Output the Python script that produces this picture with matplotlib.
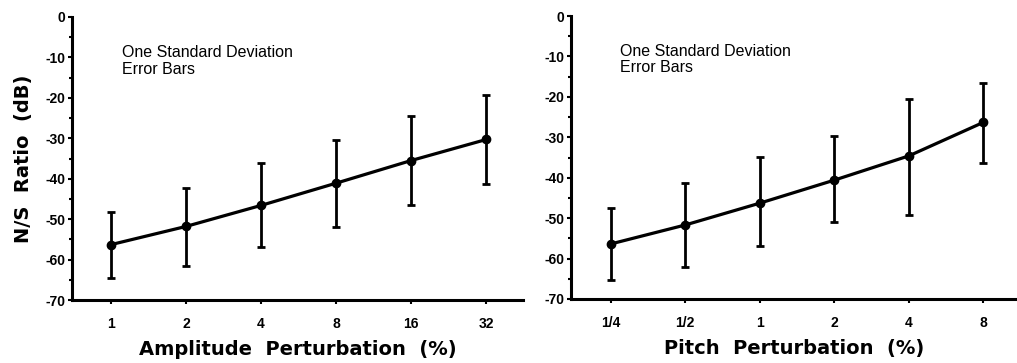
import matplotlib
matplotlib.use("Agg")
import matplotlib.pyplot as plt
from matplotlib.ticker import MultipleLocator

amp_labels = ["1", "2", "4", "8", "16", "32"]
amp_mean = [-56.3, -51.8, -46.6, -41.1, -35.5, -30.3]
amp_upper = [-48.3, -42.2, -36.2, -30.5, -24.4, -19.2]
amp_lower = [-64.5, -61.6, -56.8, -52.0, -46.5, -41.3]

pitch_labels = ["1/4", "1/2", "1", "2", "4", "8"]
pitch_mean = [-56.4, -51.7, -46.3, -40.6, -34.6, -26.3]
pitch_upper = [-47.6, -41.4, -34.8, -29.7, -20.6, -16.5]
pitch_lower = [-65.3, -62.2, -56.8, -51.0, -49.2, -36.4]

y_ticks = [0, -10, -20, -30, -40, -50, -60, -70]

plt.rcParams['font.family'] = ['Liberation Sans', 'DejaVu Sans']

fig = plt.figure(figsize=(10.17, 3.63), dpi=100)

W, H = 1017, 363
def axrect(x0, x1, ytop, ybot):
    return [x0 / W, 1 - ybot / H, (x1 - x0) / W, (ybot - ytop) / H]

ax1 = fig.add_axes(axrect(72, 523, 17, 300))
ax2 = fig.add_axes(axrect(571, 1017, 16, 299))

panels = [
    (ax1, amp_labels, amp_mean, amp_upper, amp_lower,
     "Amplitude  Perturbation  (%)", (-0.52, 5.49), True),
    (ax2, pitch_labels, pitch_mean, pitch_upper, pitch_lower,
     "Pitch  Perturbation  (%)", (-0.53, 5.45), False),
]

for ax, labels, mean, upper, lower, xlabel, xlim, show_ylabel in panels:
    x = list(range(len(labels)))
    yerr = [[m - lo for m, lo in zip(mean, lower)],
            [up - m for m, up in zip(mean, upper)]]
    ax.errorbar(x, mean, yerr=yerr, color='black', lw=2.3, marker='o',
                markersize=6, elinewidth=2.0, capsize=3, capthick=2.0)
    ax.set_xlim(*xlim)
    ax.set_ylim(-70, 0)
    ax.set_xticks(x)
    ax.set_xticklabels(labels, fontsize=10, fontweight='bold')
    ax.set_yticks(y_ticks)
    ax.set_yticklabels([str(v) for v in y_ticks], fontsize=10, fontweight='bold')
    ax.yaxis.set_minor_locator(MultipleLocator(5))
    ax.tick_params(axis='y', which='major', direction='out', length=3, width=1.5, pad=2)
    ax.tick_params(axis='y', which='minor', direction='out', length=2.5, width=1.5)
    ax.tick_params(axis='x', which='major', direction='out', length=3, width=1.5, pad=9)
    for s in ['top', 'right']:
        ax.spines[s].set_visible(False)
    for s in ['left', 'bottom']:
        ax.spines[s].set_linewidth(2.2)
    ax.set_xlabel(xlabel, fontsize=14, fontweight='bold', labelpad=7,
                  family=['DejaVu Sans'])
    if show_ylabel:
        ax.set_ylabel("N/S  Ratio  (dB)", fontsize=14, fontweight='bold', labelpad=9,
                      family=['DejaVu Sans'])
    ax.text(0.11, 0.90, "One Standard Deviation\nError Bars", transform=ax.transAxes,
            fontsize=11.5, va='top', ha='left', linespacing=1.1)

fig.savefig("out.png", dpi=100)
